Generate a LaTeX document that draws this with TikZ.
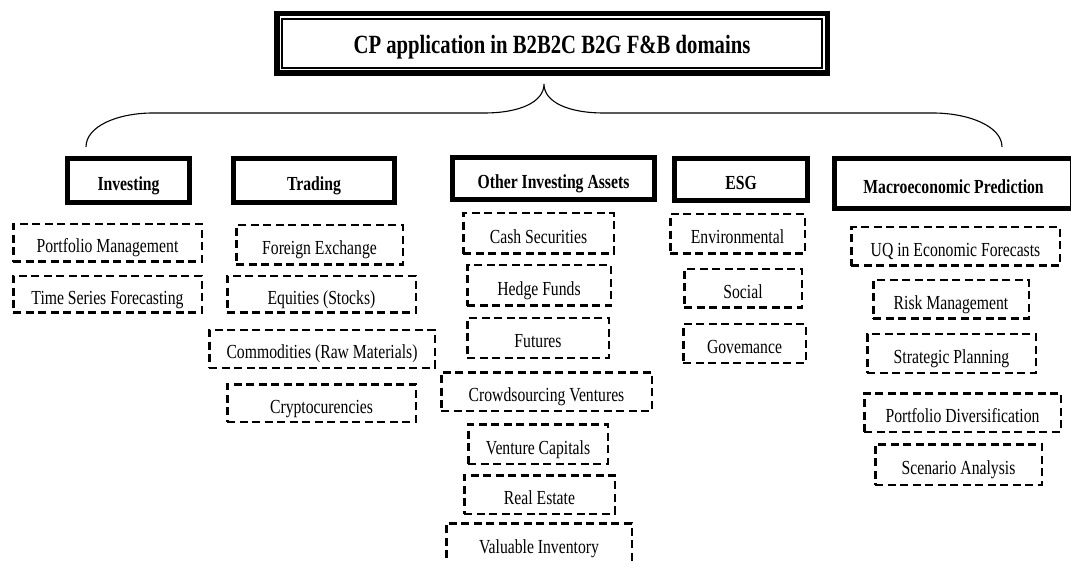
\documentclass[tikz,border=0pt]{standalone}
\usepackage{fontspec}
\setmainfont{Liberation Serif}
\usepackage{graphicx}
\newcommand\vst[1]{\scalebox{1}[1.27]{#1}}
\tikzset{
  sub/.style={draw=black, line width=2.5pt, dash pattern=on 8pt off 4.5pt, inner sep=0pt,
    text height=20pt, text depth=0pt, font=\fontsize{15.7}{18}\selectfont},
  cat/.style={draw=black, line width=5pt, inner sep=0pt,
    text height=20pt, text depth=0pt, font=\fontsize{15.7}{18}\selectfont\bfseries},
  brace/.style={draw=black, line width=1.1pt}
}
\begin{document}
\begin{tikzpicture}[x=1pt,y=-1pt]
\useasboundingbox (0,0) rectangle (1071,561);
\fill[white] (0,0) rectangle (1071,561);
% title
\node[draw=black, line width=5.5pt, inner sep=0pt, minimum width=550.5pt, minimum height=59.5pt,
  text height=20pt, text depth=0pt, font=\fontsize{20.7}{24}\selectfont\bfseries] (title) at (552,43.5)
  {\vst{CP application in B2B2C B2G F\&B domains}};
\draw[line width=1.6pt] ([xshift=8pt,yshift=-8pt]title.north west) rectangle ([xshift=-8pt,yshift=8pt]title.south east);
% brace
\coordinate (bl) at (86,147);
\coordinate (br) at (1002,147);
\coordinate (bc) at (544,84);
\draw[brace] (bl) .. controls (86,126) and (118,113) .. (153,113) -- (484,113)
  .. controls (520,113) and (544,102) .. (bc)
  .. controls (544,102) and (568,113) .. (604,113) -- (933,113)
  .. controls (968,113) and (1002,126) .. (br);
% categories
\node[cat, minimum width=122pt, minimum height=44pt] (inv) at (128.5,180.5) {\vst{Investing}};
\node[cat, minimum width=161pt, minimum height=44pt] (trad) at (314,180.5) {\vst{Trading}};
\node[cat, minimum width=202pt, minimum height=42pt] (oia) at (553.5,178.5) {\vst{Other Investing Assets}};
\node[cat, minimum width=133pt, minimum height=42pt] (esg) at (741,179.5) {\vst{ESG}};
\node[cat, minimum width=238pt, minimum height=50pt] (mac) at (953.5,183.5) {\vst{Macroeconomic Prediction}};
% investing
\node[sub, minimum width=188.5pt, minimum height=37.5pt] (pm) at (107.5,243) {\vst{Portfolio Management}};
\node[sub, minimum width=188.5pt, minimum height=36.5pt] (tsf) at (107.5,294.5) {\vst{Time Series Forecasting}};
% trading
\node[sub, minimum width=166.5pt, minimum height=39.5pt] (fx) at (319.5,245) {\vst{Foreign Exchange}};
\node[sub, minimum width=188.5pt, minimum height=36.5pt] (eq) at (321.5,294.5) {\vst{Equities (Stocks)}};
\node[sub, minimum width=225.5pt, minimum height=37.5pt] (com) at (322,349) {\vst{Commodities (Raw Materials)}};
\node[sub, minimum width=188.5pt, minimum height=37.5pt] (cry) at (321.5,403) {\vst{Cryptocurencies}};
% other investing assets
\node[sub, minimum width=150.5pt, minimum height=40.5pt] (cash) at (538.5,233.5) {\vst{Cash Securities}};
\node[sub, minimum width=143.5pt, minimum height=40.5pt] (hedge) at (539,285.5) {\vst{Hedge Funds}};
\node[sub, minimum width=141.5pt, minimum height=39.5pt] (fut) at (538,338) {\vst{Futures}};
\node[sub, minimum width=210.5pt, minimum height=38.5pt] (crowd) at (546.5,391.5) {\vst{Crowdsourcing Ventures}};
\node[sub, minimum width=139.5pt, minimum height=39.5pt] (vc) at (538,444) {\vst{Venture Capitals}};
\node[sub, minimum width=150.5pt, minimum height=38.5pt] (re) at (539.5,494.5) {\vst{Real Estate}};
\node[sub, minimum width=185.5pt, minimum height=39.5pt] (vi) at (539,543) {\vst{Valuable Inventory}};
% esg
\node[sub, minimum width=134.5pt, minimum height=39.5pt] (env) at (737.5,234) {\vst{Environmental}};
\node[sub, minimum width=117.5pt, minimum height=38.5pt] (soc) at (743,288.5) {\vst{Social}};
\node[sub, minimum width=122.5pt, minimum height=38.5pt] (gov) at (744.5,343.5) {\vst{Govemance}};
% macro
\node[sub, minimum width=208.5pt, minimum height=38.5pt] (uq) at (955.5,246.5) {\vst{UQ in Economic Forecasts}};
\node[sub, minimum width=155.5pt, minimum height=38.5pt] (risk) at (951,299.5) {\vst{Risk Management}};
\node[sub, minimum width=168.5pt, minimum height=38.5pt] (strat) at (951.5,353.5) {\vst{Strategic Planning}};
\node[sub, minimum width=196.5pt, minimum height=38.5pt] (port) at (962.5,412.5) {\vst{Portfolio Diversification}};
\node[sub, minimum width=166.5pt, minimum height=40.5pt] (scen) at (958.5,464.5) {\vst{Scenario Analysis}};
\end{tikzpicture}
\end{document}
